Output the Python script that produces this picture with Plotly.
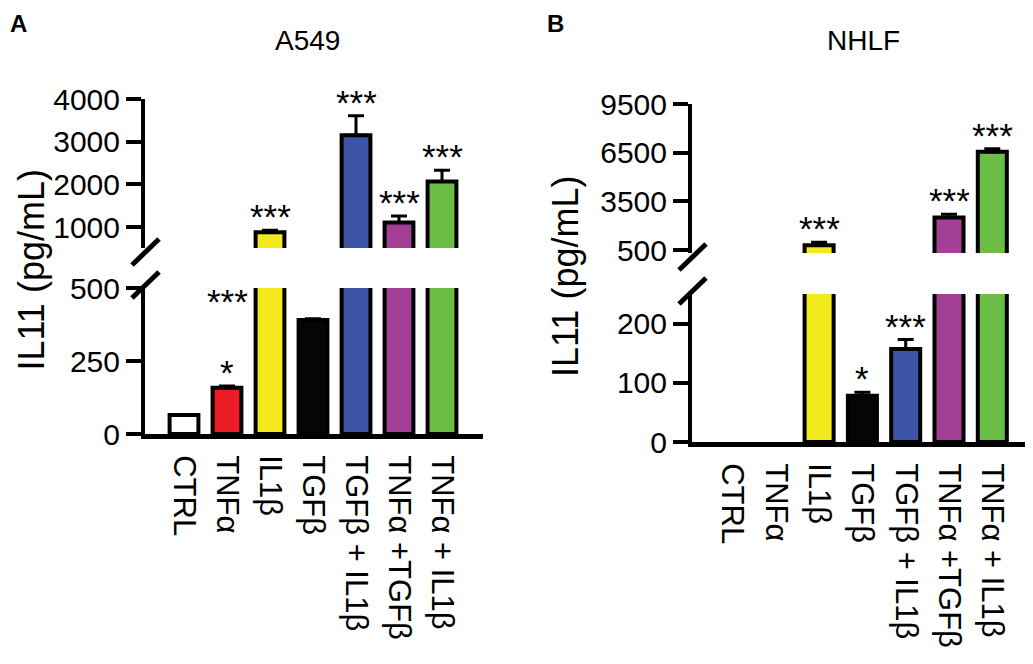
import plotly.graph_objects as go

# the page body adds an 8px margin, so the figure is drawn 8px in from the corner
OFF = 8
W, H = 1033 - OFF, 664 - OFF

# ---- data -------------------------------------------------------------
categories = ["CTRL", "TNFα", "IL1β", "TGFβ", "TGFβ + IL1β", "TNFα +TGFβ", "TNFα + IL1β"]
bar_colors = ["#FFFFFF", "#EC1C24", "#F2EA1C", "#050505", "#3B54A5", "#A33F96", "#6BBD45"]

a549_mean = [65, 158, 880, 390, 3150, 1110, 2070]
a549_err = [0, 6, 45, 5, 460, 150, 260]
a549_stars = ["", "*", "***", "", "***", "***", "***"]

# CTRL and TNFα were below detection in NHLF (no bar drawn)
nhlf_mean = [None, None, 800, 78, 157, 2500, 6560]
nhlf_err = [0, 0, 170, 6, 16, 210, 180]
nhlf_stars = ["", "", "***", "*", "***", "***", "***"]

a549_ticks_low = [0, 250, 500]
a549_ticks_high = [1000, 2000, 3000, 4000]
nhlf_ticks_low = [0, 100, 200]
nhlf_ticks_high = [500, 3500, 6500, 9500]

FONT = "Liberation Sans, Arial, sans-serif"


def px_x(p):
    return (p - OFF) / W


def px_y(p):
    return 1 - (p - OFF) / H


fig = go.Figure()

# panel geometry in (page) pixels
panels = [
    dict(name="A549", mean=a549_mean, err=a549_err, stars=a549_stars,
         xs="x", ylo="y", yhi="y2", xname="xaxis", yloname="yaxis", yhiname="yaxis2",
         yx=145, xr=483, c0=184, step=43,
         lo_px=(434, 288), hi_px=(248, 99), lo_rng=[0, 500], hi_rng=[510, 4000],
         lo_ticks=a549_ticks_low, hi_ticks=a549_ticks_high,
         title_xy=(307, 40), label="A", label_x=OFF, ytitle_x=OFF, ytitle_y=270,
         ytitle_anchor="left"),
    dict(name="NHLF", mean=nhlf_mean, err=nhlf_err, stars=nhlf_stars,
         xs="x2", ylo="y3", yhi="y4", xname="xaxis2", yloname="yaxis3", yhiname="yaxis4",
         yx=692, xr=1033, c0=732.5, step=43.3,
         lo_px=(442, 294), hi_px=(253, 104), lo_rng=[0, 250], hi_rng=[315, 9500],
         lo_ticks=nhlf_ticks_low, hi_ticks=nhlf_ticks_high,
         title_xy=(863, 40), label="B", label_x=545, ytitle_x=565, ytitle_y=277,
         ytitle_anchor="center"),
]

annotations = []
shapes = []
layout_axes = {}

for p in panels:
    for yref in (p["ylo"], p["yhi"]):
        fig.add_trace(go.Bar(
            x=categories, y=p["mean"], xaxis=p["xs"], yaxis=yref,
            marker=dict(color=bar_colors, line=dict(color="black", width=4)),
            error_y=dict(type="data", symmetric=False, array=p["err"],
                         arrayminus=[0] * len(p["err"]),
                         color="black", thickness=3, width=8),
            showlegend=False, hoverinfo="skip",
        ))

    x_rng = [(p["yx"] - p["c0"]) / p["step"], (p["xr"] - p["c0"]) / p["step"]]
    layout_axes[p["xname"]] = dict(
        domain=[px_x(p["yx"]), min(1, px_x(p["xr"]))], range=x_rng, anchor=p["ylo"],
        showline=True, linecolor="black", linewidth=5, ticks="",
        tickangle=90, ticklabelstandoff=10, automargin=False,
        tickfont=dict(family=FONT, size=31, color="black"),
        showgrid=False, zeroline=False, fixedrange=True,
    )
    common_y = dict(
        anchor=p["xs"], showline=True, linecolor="black", linewidth=4,
        ticks="outside", ticklen=15, tickwidth=4, tickcolor="black",
        tickfont=dict(family=FONT, size=30, color="black"), automargin=False,
        showgrid=False, zeroline=False, fixedrange=True,
    )
    layout_axes[p["yloname"]] = dict(
        common_y, domain=[px_y(p["lo_px"][0]), px_y(p["lo_px"][1])],
        range=p["lo_rng"], tickvals=p["lo_ticks"])
    layout_axes[p["yhiname"]] = dict(
        common_y, domain=[px_y(p["hi_px"][0]), px_y(p["hi_px"][1])],
        range=p["hi_rng"], tickvals=p["hi_ticks"])

    # significance stars above each error bar
    for cat, m, e, s in zip(categories, p["mean"], p["err"], p["stars"]):
        if not s:
            continue
        top = m + e
        yref = p["ylo"] if top <= p["lo_rng"][1] else p["yhi"]
        annotations.append(dict(
            x=cat, y=top, xref=p["xs"], yref=yref, text=s, showarrow=False,
            yanchor="bottom", yshift=-8,
            font=dict(family=FONT, size=35, color="black")))

    # axis break slashes
    bx = p["yx"]
    for ymid in (p["hi_px"][0] + 4, p["lo_px"][1] - 3):
        shapes.append(dict(type="line", xref="paper", yref="paper",
                           x0=px_x(bx - 13), y0=px_y(ymid + 13),
                           x1=px_x(bx + 14), y1=px_y(ymid - 13),
                           line=dict(color="black", width=5)))

    annotations.append(dict(
        x=px_x(p["title_xy"][0]), y=px_y(p["title_xy"][1]), xref="paper", yref="paper",
        text=p["name"], showarrow=False, xanchor="center", yanchor="middle",
        font=dict(family=FONT, size=28, color="black")))
    annotations.append(dict(
        x=px_x(p["label_x"]), y=1, xref="paper", yref="paper",
        text="<b>" + p["label"] + "</b>", showarrow=False,
        xanchor="left", yanchor="top",
        font=dict(family=FONT, size=24, color="black")))
    annotations.append(dict(
        x=px_x(p["ytitle_x"]), y=px_y(p["ytitle_y"]), xref="paper", yref="paper",
        text="IL11 (pg/mL)", showarrow=False, textangle=-90,
        xanchor=p["ytitle_anchor"], yanchor="middle",
        font=dict(family=FONT, size=36, color="black")))

# extra label drawn beside the IL1β bar in the lower A549 segment
annotations.append(dict(
    x=categories[1], y=a549_ticks_low[-1], xref="x", yref="y", text="***",
    showarrow=False, yanchor="middle", yshift=-14,
    font=dict(family=FONT, size=35, color="black")))

fig.update_layout(
    template="none",
    width=W, height=H, autosize=False,
    margin=dict(l=0, r=0, t=0, b=0, pad=0),
    paper_bgcolor="white", plot_bgcolor="rgba(0,0,0,0)",
    bargap=0.33,
    annotations=annotations, shapes=shapes,
    **layout_axes,
)

fig.write_html("out.html")
